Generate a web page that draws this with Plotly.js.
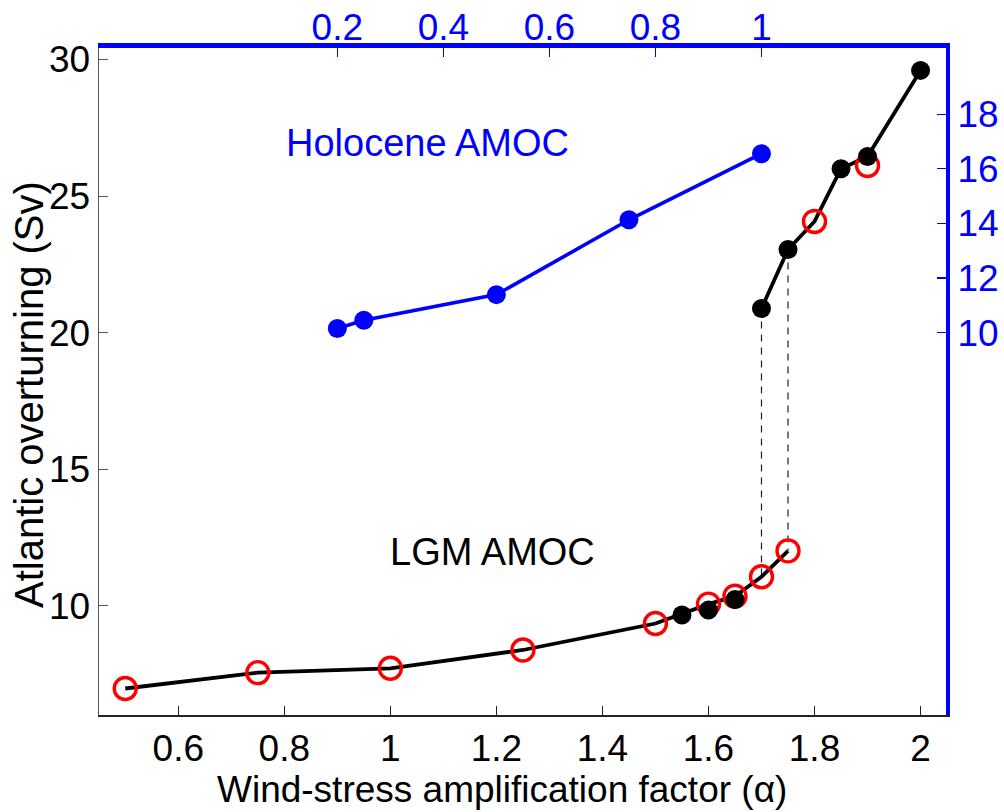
<!DOCTYPE html>
<html>
<head>
<meta charset="utf-8">
<script src="https://cdn.plot.ly/plotly-3.0.1.min.js"></script>
<style>html,body{margin:0;padding:0;background:#fff;} #chart{width:1004px;height:812px;}</style>
</head>
<body>
<div id="chart"></div>
<script>
// LGM lower branch (red open circles, joined by black line)
const lgmLowerAlpha = [0.5, 0.75, 1.0, 1.25, 1.5, 1.6, 1.65, 1.7, 1.75];
const lgmLowerAmoc  = [6.97, 7.55, 7.71, 8.38, 9.35, 10.06, 10.35, 11.06, 12.01];
// LGM upper branch red open circles
const lgmUpperRedAlpha = [1.8, 1.9];
const lgmUpperRedAmoc  = [24.07, 26.12];
// LGM black filled circles
const lgmBlackAlpha = [1.55, 1.6, 1.65, 1.7, 1.75, 1.85, 1.9, 2.0];
const lgmBlackAmoc  = [9.66, 9.84, 10.23, 20.88, 23.04, 26.0, 26.45, 29.6];
// LGM upper branch line
const lgmUpperLineAlpha = [1.7, 1.75, 1.8, 1.85, 1.9, 2.0];
const lgmUpperLineAmoc  = [20.88, 23.04, 24.07, 26.0, 26.45, 29.6];
// Hysteresis jumps (dashed)
const jumpAlpha = [1.7, 1.75];
const jumpLow   = [11.06, 12.01];
const jumpHigh  = [20.88, 23.04];
// Holocene AMOC (top / right axes)
const holoAlpha = [0.2, 0.25, 0.5, 0.75, 1.0];
const holoAmoc  = [10.15, 10.45, 11.39, 14.13, 16.55];

const xTicks = [0.6, 0.8, 1, 1.2, 1.4, 1.6, 1.8, 2];
const yTicks = [10, 15, 20, 25, 30];
const x2Ticks = [0.2, 0.4, 0.6, 0.8, 1];
const y2Ticks = [10, 12, 14, 16, 18];

const xTitle = 'Wind-stress amplification factor (α)';
const yTitle = 'Atlantic overturning (Sv)';
const holoLabel = 'Holocene AMOC';
const lgmLabel = 'LGM AMOC';

const FONT = 'Liberation Sans, Arial, sans-serif';
const FS = 37;
const BLUE = '#0000ff';

const xRange = [0.4505, 2.048];
const yRange = [6.0, 30.42];

const traces = [];
for (let i = 0; i < jumpAlpha.length; i++) {
  traces.push({
    x: [jumpAlpha[i], jumpAlpha[i]], y: [jumpHigh[i], jumpLow[i]],
    mode: 'lines', line: {color: '#222', width: 1.2, dash: '7px,6px'},
    xaxis: 'x', yaxis: 'y', hoverinfo: 'skip', showlegend: false
  });
}
traces.push({x: lgmLowerAlpha, y: lgmLowerAmoc, mode: 'lines', line: {color: '#000', width: 3.8}, xaxis: 'x', yaxis: 'y', showlegend: false});
traces.push({x: lgmUpperLineAlpha, y: lgmUpperLineAmoc, mode: 'lines', line: {color: '#000', width: 3.8}, xaxis: 'x', yaxis: 'y', showlegend: false});
traces.push({x: lgmLowerAlpha, y: lgmLowerAmoc, mode: 'markers', marker: {symbol: 'circle-open', size: 22, color: '#ff0000', line: {color: '#ff0000', width: 3.4}}, xaxis: 'x', yaxis: 'y', showlegend: false});
traces.push({x: lgmUpperRedAlpha, y: lgmUpperRedAmoc, mode: 'markers', marker: {symbol: 'circle-open', size: 22, color: '#ff0000', line: {color: '#ff0000', width: 3.4}}, xaxis: 'x', yaxis: 'y', showlegend: false});
traces.push({x: lgmBlackAlpha, y: lgmBlackAmoc, mode: 'markers', marker: {symbol: 'circle', size: 19, color: '#000'}, xaxis: 'x', yaxis: 'y', showlegend: false});
traces.push({x: holoAlpha, y: holoAmoc, mode: 'lines+markers', line: {color: BLUE, width: 3.6}, marker: {symbol: 'circle', size: 19, color: BLUE}, xaxis: 'x2', yaxis: 'y2', showlegend: false});

const layout = {
  width: 1004, height: 812,
  margin: {l: 99, r: 58, t: 48, b: 97, pad: 0},
  paper_bgcolor: '#fff', plot_bgcolor: '#fff',
  font: {family: FONT, size: FS, color: '#000'},
  showlegend: false,
  xaxis: {
    range: xRange, tickvals: xTicks, ticktext: xTicks.map(String),
    ticks: 'inside', ticklen: 9, tickcolor: '#222', tickwidth: 1,
    showline: true, linecolor: '#222', linewidth: 1.5, mirror: false,
    showgrid: false, zeroline: false,
    tickfont: {family: FONT, size: FS, color: '#000'}
  },
  yaxis: {
    range: yRange, tickvals: yTicks, ticktext: yTicks.map(String),
    ticks: 'inside', ticklen: 9, tickcolor: '#555', tickwidth: 1,
    showline: true, linecolor: '#555', linewidth: 1.5,
    showgrid: false, zeroline: false,
    tickfont: {family: FONT, size: FS, color: '#000'}
  },
  xaxis2: {
    overlaying: 'x', side: 'top', anchor: 'y2',
    range: [xRange[0] - 0.7, xRange[1] - 0.7], tickvals: x2Ticks, ticktext: x2Ticks.map(String),
    ticks: 'inside', ticklen: 9, tickcolor: BLUE, tickwidth: 1.2,
    showline: true, linecolor: BLUE, linewidth: 5,
    showgrid: false, zeroline: false, ticklabelstandoff: -12,
    tickfont: {family: FONT, size: FS, color: BLUE}
  },
  yaxis2: {
    overlaying: 'y', side: 'right', anchor: 'x2',
    range: [yRange[0] - 10, yRange[1] - 10], tickvals: y2Ticks, ticktext: y2Ticks.map(String),
    ticks: 'inside', ticklen: 9, tickcolor: BLUE, tickwidth: 1.2,
    showline: true, linecolor: BLUE, linewidth: 4,
    showgrid: false, zeroline: false,
    tickfont: {family: FONT, size: FS, color: BLUE}
  },
  annotations: [
    {text: holoLabel, xref: 'x', yref: 'y', x: 0.80, y: 26.93, xanchor: 'left', yanchor: 'middle', showarrow: false, font: {family: FONT, size: 38, color: BLUE}},
    {text: lgmLabel, xref: 'x', yref: 'y', x: 0.995, y: 11.96, xanchor: 'left', yanchor: 'middle', showarrow: false, font: {family: FONT, size: 38, color: '#000'}},
    {text: xTitle, xref: 'paper', yref: 'paper', x: (502 - 99) / 847, y: (715 - 811) / 667, xanchor: 'center', yanchor: 'bottom', borderpad: 0, showarrow: false, font: {family: FONT, size: 37, color: '#000'}},
    {text: yTitle, xref: 'paper', yref: 'paper', x: (29 - 99) / 847, y: (715 - 395) / 667, xanchor: 'center', yanchor: 'middle', textangle: -90, showarrow: false, font: {family: FONT, size: 40, color: '#000'}}
  ]
};

Plotly.newPlot('chart', traces, layout, {displayModeBar: false, staticPlot: true});
</script>
</body>
</html>
